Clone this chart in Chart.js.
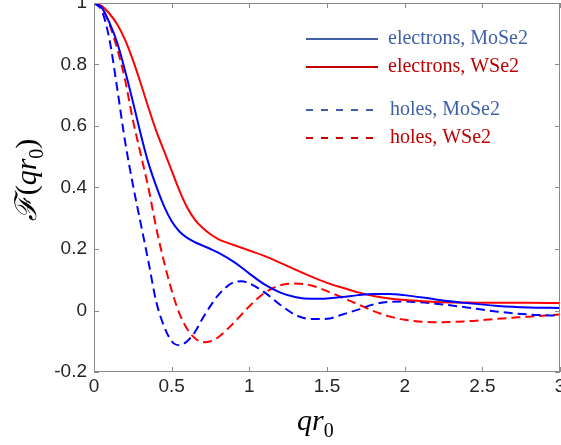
<!DOCTYPE html>
<html>
<head>
<meta charset="utf-8">
<script src="https://cdn.jsdelivr.net/npm/chart.js@4.4.1/dist/chart.umd.min.js"></script>
<style>
  html, body { margin: 0; padding: 0; background: #fff; }
</style>
</head>
<body>
<canvas id="chart" width="561" height="445"></canvas>
<script>
// qr0 sample points
const qr = [0, 0.05, 0.1, 0.15, 0.2, 0.25, 0.3, 0.35, 0.4, 0.45, 0.5, 0.55, 0.6, 0.65, 0.7, 0.75,
            0.8, 0.9, 0.95, 1.0, 1.1, 1.2, 1.3, 1.4, 1.5, 1.6, 1.7, 1.8, 1.9, 2.0, 2.2, 2.4, 2.6, 2.8, 3.0];

const electronsMoSe2 = [1, 0.985, 0.935, 0.87, 0.78, 0.68, 0.575, 0.48, 0.405, 0.34, 0.29, 0.257, 0.236, 0.222, 0.211, 0.2,
                        0.188, 0.158, 0.14, 0.12, 0.084, 0.058, 0.043, 0.038, 0.039, 0.044, 0.05, 0.054, 0.054, 0.05, 0.036, 0.024, 0.015, 0.01, 0.008];
const electronsWSe2 = [1, 0.99, 0.965, 0.93, 0.88, 0.815, 0.74, 0.66, 0.585, 0.52, 0.455, 0.39, 0.335, 0.295, 0.268, 0.248,
                       0.232, 0.213, 0.204, 0.195, 0.177, 0.155, 0.132, 0.11, 0.09, 0.074, 0.059, 0.047, 0.039, 0.034, 0.028, 0.026, 0.025, 0.025, 0.024];
const holesMoSe2 = [1, 0.975, 0.88, 0.72, 0.55, 0.41, 0.285, 0.16, 0.03, -0.05, -0.1, -0.113, -0.1, -0.07, -0.025, 0.015,
                    0.05, 0.092, 0.095, 0.088, 0.058, 0.018, -0.015, -0.028, -0.027, -0.013, 0.003, 0.02, 0.028, 0.029, 0.022, 0.01, -0.004, -0.013, -0.017];
const holesWSe2 = [1, 0.985, 0.93, 0.85, 0.75, 0.62, 0.51, 0.4, 0.27, 0.16, 0.065, -0.01, -0.06, -0.09, -0.103, -0.1,
                   -0.087, -0.04, -0.013, 0.014, 0.058, 0.082, 0.088, 0.081, 0.063, 0.042, 0.02, -0.002, -0.019, -0.03, -0.038, -0.035, -0.027, -0.02, -0.013];

const xTickValues = [0, 0.5, 1, 1.5, 2, 2.5, 3];
const xTickLabels = ['0', '0.5', '1', '1.5', '2', '2.5', '3'];
const yTickValues = [-0.2, 0, 0.2, 0.4, 0.6, 0.8, 1];
const yTickLabels = ['-0.2', '0', '0.2', '0.4', '0.6', '0.8', '1'];

const seriesNames = ['electrons, MoSe2', 'electrons, WSe2', 'holes, MoSe2', 'holes, WSe2'];
const seriesValues = [electronsMoSe2, electronsWSe2, holesMoSe2, holesWSe2];
const lineColors = ['#0000ff', '#ff0000', '#0000ff', '#ff0000'];
const legendColors = ['#3f5fa8', '#c00000', '#3f5fa8', '#c00000'];
const dashed = [false, false, true, true];

const tickFont = { family: "'Liberation Sans', Arial, sans-serif", size: 19 };

const datasets = seriesValues.map((vals, i) => ({
    label: seriesNames[i],
    data: vals.map((y, k) => ({ x: qr[k], y: y })),
    borderColor: lineColors[i],
    borderWidth: 2,
    borderDash: dashed[i] ? [9, 5] : [],
    pointRadius: 0,
    fill: false,
    cubicInterpolationMode: 'monotone'
}));

// box + inward ticks, like a matlab axes
const boxPlugin = {
    id: 'box',
    afterDatasetsDraw(chart) {
        const { ctx, chartArea: a, scales } = chart;
        ctx.save();
        ctx.strokeStyle = '#8a8a8a';
        ctx.lineWidth = 1;
        ctx.strokeRect(a.left + 0.5, a.top + 0.5, a.right - a.left - 1, a.bottom - a.top - 1);
        ctx.beginPath();
        xTickValues.forEach(v => {
            const px = Math.round(scales.x.getPixelForValue(v)) + 0.5;
            ctx.moveTo(px, a.bottom); ctx.lineTo(px, a.bottom - 5);
            ctx.moveTo(px, a.top); ctx.lineTo(px, a.top + 5);
        });
        yTickValues.forEach(v => {
            const py = Math.round(scales.y.getPixelForValue(v)) + 0.5;
            ctx.moveTo(a.left, py); ctx.lineTo(a.left + 5, py);
            ctx.moveTo(a.right, py); ctx.lineTo(a.right - 5, py);
        });
        ctx.stroke();
        ctx.restore();
    }
};

// legend without frame, grouped in two pairs
const legendPlugin = {
    id: 'texLegend',
    afterDraw(chart) {
        const { ctx, chartArea: a } = chart;
        const rowY = [36, 64, 107, 135];
        ctx.save();
        ctx.font = "20px 'Liberation Serif', 'Times New Roman', serif";
        ctx.textBaseline = 'middle';
        seriesNames.forEach((name, i) => {
            const y = a.top + rowY[i];
            const x0 = a.left + 212;
            ctx.strokeStyle = legendColors[i];
            ctx.lineWidth = 2;
            ctx.setLineDash(dashed[i] ? [7, 8] : []);
            ctx.beginPath();
            ctx.moveTo(x0, y);
            ctx.lineTo(x0 + 72, y);
            ctx.stroke();
            ctx.setLineDash([]);
            ctx.fillStyle = legendColors[i];
            ctx.fillText(name, x0 + (dashed[i] ? 84 : 82), y);
        });
        ctx.restore();
    }
};

// axis titles with italic math and subscript
const titlePlugin = {
    id: 'mathTitles',
    afterDraw(chart) {
        const { ctx } = chart;
        const serif = "'Liberation Serif', 'Times New Roman', serif";
        const parts = (pre) => pre.concat([
            { t: 'q', f: 'italic 30px ' + serif, dy: 0 },
            { t: 'r', f: 'italic 30px ' + serif, dy: 0 },
            { t: '0', f: '20px ' + serif, dy: 7 }
        ]);
        const drawParts = (list, x, y) => {
            let cx = x;
            list.forEach(p => {
                ctx.font = p.f;
                ctx.fillText(p.t, cx, y + p.dy);
                cx += ctx.measureText(p.t).width + (p.pad || 0);
            });
            return cx - x;
        };
        const measure = (list) => list.reduce((w, p) => { ctx.font = p.f; return w + ctx.measureText(p.t).width + (p.pad || 0); }, 0);

        ctx.save();
        ctx.fillStyle = '#000';
        ctx.textBaseline = 'alphabetic';
        ctx.textAlign = 'left';

        // x title
        const xt = parts([]);
        drawParts(xt, 297, 430);

        // y title, rotated
        const yt = parts([
            { t: '\u2131', f: 'italic 30px ' + serif, dy: 0, pad: 1 },
            { t: '(', f: '30px ' + serif, dy: 0 }
        ]);
        yt.push({ t: ')', f: '30px ' + serif, dy: 0 });
        const w = measure(yt);
        ctx.translate(36, 180);
        ctx.rotate(-Math.PI / 2);
        drawParts(yt, -w / 2, 0);
        ctx.restore();
    }
};

new Chart(document.getElementById('chart'), {
    type: 'line',
    data: { datasets },
    options: {
        responsive: false,
        animation: false,
        devicePixelRatio: 1,
        layout: { padding: { top: 3, right: 1, left: 0, bottom: 0 } },
        plugins: {
            legend: { display: false },
            tooltip: { enabled: false }
        },
        scales: {
            x: {
                type: 'linear',
                min: 0,
                max: 3,
                grid: { display: false, drawTicks: false },
                border: { display: false },
                ticks: {
                    font: tickFont,
                    color: '#262626',
                    padding: 3,
                    maxRotation: 0,
                    autoSkip: false,
                    callback: (v) => xTickLabels[xTickValues.indexOf(v)]
                },
                afterBuildTicks: (s) => { s.ticks = xTickValues.map(v => ({ value: v })); },
                afterFit: (s) => { s.height = 73; s.paddingLeft = 0; s.paddingRight = 0; }
            },
            y: {
                type: 'linear',
                min: -0.2,
                max: 1,
                grid: { display: false, drawTicks: false },
                border: { display: false },
                ticks: {
                    font: tickFont,
                    color: '#262626',
                    padding: 7,
                    autoSkip: false,
                    callback: (v) => yTickLabels[yTickValues.findIndex(t => Math.abs(t - v) < 1e-9)]
                },
                afterBuildTicks: (s) => { s.ticks = yTickValues.map(v => ({ value: v })); },
                afterFit: (s) => { s.width = 94; s.paddingTop = 0; s.paddingBottom = 0; }
            }
        }
    },
    plugins: [boxPlugin, legendPlugin, titlePlugin]
});
</script>
</body>
</html>
